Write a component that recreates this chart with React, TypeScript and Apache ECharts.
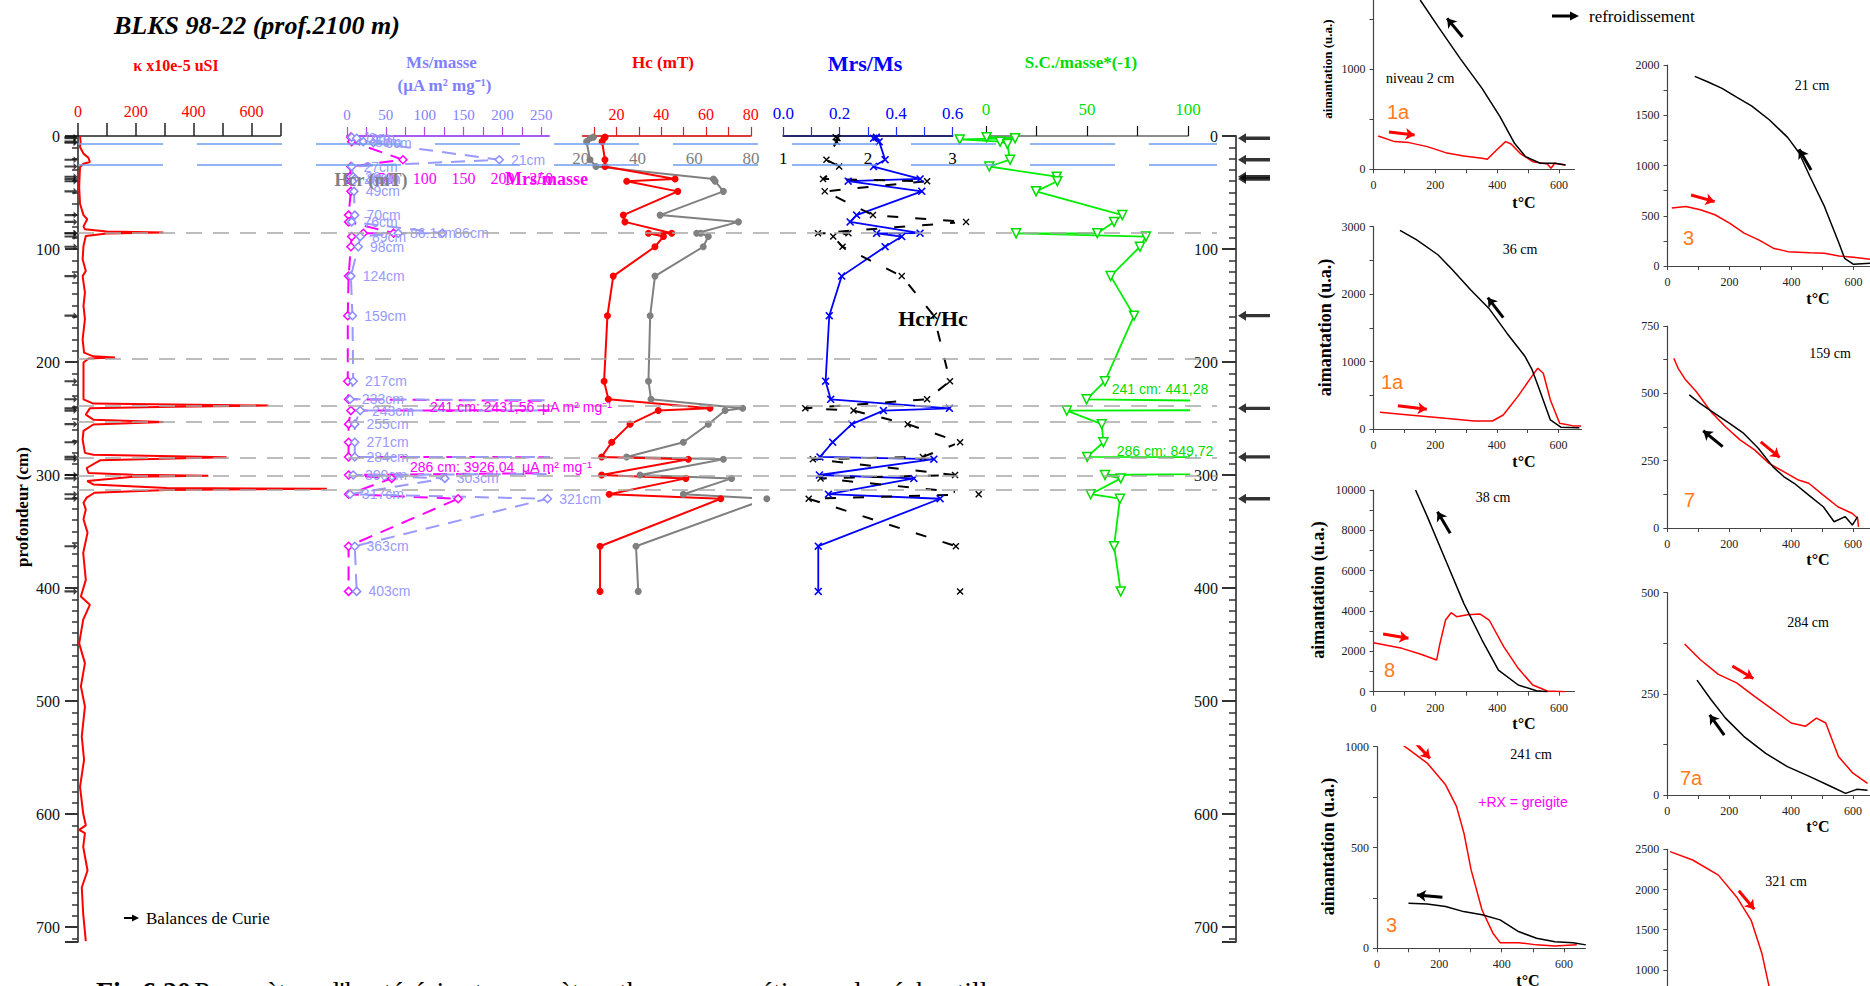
import React, { useEffect, useRef } from "react";
import * as echarts from "echarts";

const SERIF = '"Liberation Serif", "Times New Roman", serif';
const SANS = '"Liberation Sans", Arial, sans-serif';

// ---------------- depth profile data (depth in cm) ----------------
const kappaDepth = [0,5.4,9.7,15.6,19.2,23,24.5,27.4,45,60,70,73.7,80,82.6,84.5,85.4,86.2,88.5,97.3,109,119.4,124,138.6,150.4,162,180,191.7,195,196,197,200.5,221,233,236.8,237.6,238.5,239.7,241,246.5,251,253,255.3,261,268.7,280.4,282,284.3,287,293.8,298.2,299.7,300.6,301.6,305.4,308.4,311.4,312.2,313.3,315.7,320,324.5,330.4,339.2,351,369,392.8,407.5,414.9,428,449,466.5,487,505,531.4,552,576,599.6,610,614,617,629,650,665,688.3,712.5];
const kappaValue = [7,9,7,19,36,41,19,7,4,7,19,32,19,24,99,295,99,27,19,16,27,16,24,19,24,16,21,53,128,36,19,19,19,53,330,659,330,41,27,53,295,53,19,16,24,53,514,76,30,36,191,451,191,32,53,307,861,307,57,30,19,27,19,33,18,27,10,41,18,4,24,10,24,13,21,7,18,27,4,24,18,33,13,18,27];

const msDepth = [1,2,5,6,21,27,36,38,40,49,70,76,86,86.1,89,98,124,159,217,233,241,243,255,271,284,286,300,303,317,321,363,403];
const msValue = [6,12.5,21,34,196,6,8,10,7,9,10,6,123,66,17,14.5,5,7,8,4,2431.56,17,10,10,10,3926.04,8,126,4,258,10,12.5];
const msLabel = ["1cm","2cm","5cm","6cm","21cm","27cm","36cm","38cm","40cm","49cm","70cm","76cm","86cm","86.1cm","89cm","98cm","124cm","159cm","217cm","233cm","","243cm","255cm","271cm","284cm","","300cm","303cm","317cm","321cm","363cm","403cm"];

const mrsDepth = [1,2,5,21,27,36,40,49,70,76,86,86.1,89,98,124,159,217,233,241,243,255,271,284,286,300,303,317,321,363,403];
const mrsValue = [5,6,6,72,5,4,5,5,2,2,60,21,6,5,2,1,1,2,1432,5,2,2,2,2097,2,57.5,2,143,2,2];

const hystDepth = [1,2,5,21,27,38,40,49,70,76,86,86.1,89,98,124,159,217,233,241,243,255,271,284,286,300,303,317,321,363,403];
const hcValue = [14.9,14.5,13.6,14.9,14.9,46.2,24.6,47.4,23.1,23.8,44.7,34.3,41,37.2,18.6,16,14.5,16.4,61.8,38.7,26.1,17.9,13.4,52.1,13.4,51,16.8,66.6,12.7,12.7];
const hcrValue = [24.5,23.3,22.1,23.3,25.4,66.8,67.4,70.3,48,75.6,60.9,62.3,65,63.2,46.2,44.5,43.9,44.8,77.1,70.9,65,56.2,36.2,70.3,40.9,73.2,56.2,85.6,39.5,40.3];
const mrsMsValue = [0.33,0.32,0.34,0.361,0.32,0.485,0.23,0.491,0.26,0.237,0.485,0.331,0.42,0.361,0.207,0.163,0.15,0.168,0.589,0.355,0.243,0.175,0.13,0.534,0.128,0.463,0.16,0.556,0.124,0.124];
const hcrHcValue = [1.62,1.64,1.63,1.51,1.66,1.47,2.70,1.49,2.06,3.16,1.41,1.77,1.59,1.70,2.40,2.78,2.97,2.70,1.26,1.83,2.47,3.09,2.65,1.35,3.03,1.44,3.31,1.30,3.04,3.09];

const scDepth = [1,2,3,5,7,21,27,36,40,49,70,76,86,86.1,89,98,124,159,217,233,241,243,255,271,284,286,300,303,317,321,363,403];
const scValue = [0.3,14.4,-13,7,10.6,11.9,1.6,35,35.3,24.8,67.5,63.4,55.1,14.9,79.2,76.2,61.7,73.3,58.9,49.8,441.28,40,57.3,58.1,50.1,849.72,58.9,66.7,51.8,66.3,63.4,66.7];

const blueRefDepth = [7, 25];
const grayRefDepth = [86, 197, 239, 253, 284.5, 301, 313];
const curieDepth = [2, 21, 36, 38, 159, 241, 284, 321];

// axis tick labels
const kappaTicks = [0, 200, 400, 600];
const msTicks = [0, 50, 100, 150, 200, 250];
const hcTicks = [20, 40, 60, 80];
const hcrTicks = [20, 40, 60, 80];
const mrsMsTicks = [0, 0.2, 0.4, 0.6];
const hcrHcTicks = [1, 2, 3];
const scTicks = [0, 50, 100];
const tempTicks = [0, 200, 400, 600];

// ---------------- Curie balance curves [t °C, aimantation] ----------------
const curie2Heat = [[15,332],[68,276],[115,266],[174,226],[233,166],[292,133],[351,110],[368,100],[398,193],[427,276],[445,252],[474,159],[515,76],[562,53],[574,10],[586,60],[621,43]];
const curie2Cool = [[151,1688],[209,1422],[280,1106],[351,807],[409,525],[456,259],[492,126],[539,60],[586,60],[621,43]];
const curie21Heat = [[14,577],[59,593],[106,560],[153,510],[200,427],[247,327],[294,260],[341,177],[388,143],[459,133],[506,127],[553,100],[600,87],[653,67]];
const curie21Cool = [[88,1887],[129,1833],[176,1767],[224,1677],[271,1593],[329,1453],[388,1277],[424,1127],[459,893],[506,593],[553,227],[571,77],[600,17],[653,27]];
const curie36Heat = [[21,248],[115,208],[233,158],[327,119],[386,119],[421,208],[468,480],[515,787],[533,901],[551,827],[574,431],[604,84],[645,50],[674,45]];
const curie36Cool = [[86,2946],[139,2807],[209,2584],[256,2361],[315,2064],[374,1792],[433,1421],[492,1074],[515,876],[539,579],[574,134],[609,25],[668,20]];
const curie159Heat = [[21,630],[35,593],[59,550],[94,506],[141,432],[188,376],[235,327],[282,290],[329,240],[376,209],[424,178],[457,166],[504,122],[551,79],[598,54],[615,36],[618,4]];
const curie159Cool = [[71,494],[106,463],[153,426],[200,389],[247,351],[294,296],[341,228],[376,191],[410,166],[457,122],[504,79],[539,23],[575,42],[598,11],[615,42]];
const curie38Heat = [[0,2430],[92,2149],[151,1868],[204,1570],[215,2397],[233,3554],[251,3917],[269,3719],[304,3818],[345,3851],[374,3554],[421,2231],[468,1157],[515,331],[562,33],[621,0]];
const curie38Cool = [[136,10000],[174,8678],[233,6529],[292,4380],[351,2562],[404,1074],[468,331],[527,50],[562,0]];
const curie284Heat = [[56,373],[106,335],[165,298],[224,277],[282,244],[341,211],[400,178],[447,170],[482,190],[512,178],[553,95],[600,54],[647,29]];
const curie284Cool = [[96,284],[141,236],[188,190],[247,145],[318,103],[388,70],[459,46],[529,21],[576,4],[612,14],[647,12]];
const curie241Heat = [[15,1081],[56,1038],[103,985],[161,919],[220,811],[255,704],[279,571],[302,389],[337,190],[372,75],[395,28],[454,28],[512,17],[571,12],[641,17]];
const curie241Cool = [[101,224],[161,220],[220,207],[278,182],[337,166],[395,141],[454,83],[512,50],[571,33],[629,28],[670,17]];
const curie321Heat = [[9,2471],[82,2367],[165,2179],[224,1908],[271,1617],[306,1200],[329,792]];

const range = (a: number, b: number, s: number) => {
  const r: number[] = [];
  for (let v = a; v <= b + 1e-9; v += s) r.push(+v.toFixed(6));
  return r;
};

// layout of the Curie balance panels (pixels) + their direction arrows (data units)
const curiePanels = [
  { left: 1373.5, top: 0, width: 201, height: 169.3, xMax: 650, yMin: 0, yMax: 1688, yLabels: [0, 1000], yTicks: range(0, 1500, 500), heat: curie2Heat, cool: curie2Cool, heatArrow: [[50, 372], [133, 342]], coolArrow: [[288, 1319], [238, 1505]] },
  { left: 1667.5, top: 65, width: 202.5, height: 201, xMax: 653, yMin: 0, yMax: 2000, yLabels: range(0, 2000, 500), yTicks: range(0, 2000, 250), heat: curie21Heat, cool: curie21Cool, heatArrow: [[76, 706], [152, 640]], coolArrow: [[463, 955], [424, 1161]] },
  { left: 1373.5, top: 226.7, width: 208, height: 202.3, xMax: 675, yMin: 0, yMax: 3000, yLabels: range(0, 3000, 1000), yTicks: range(0, 3000, 500), heat: curie36Heat, cool: curie36Cool, heatArrow: [[79, 346], [173, 292]], coolArrow: [[421, 1651], [371, 1947]] },
  { left: 1667.3, top: 326, width: 202.7, height: 202, xMax: 655, yMin: 0, yMax: 750, yLabels: range(0, 750, 250), yTicks: range(0, 750, 125), heat: curie159Heat, cool: curie159Cool, heatArrow: [[302, 320], [363, 262]], coolArrow: [[179, 302], [116, 361]] },
  { left: 1373.5, top: 490, width: 201, height: 201.7, xMax: 650, yMin: 0, yMax: 10000, yLabels: range(0, 10000, 2000), yTicks: range(0, 10000, 1000), heat: curie38Heat, cool: curie38Cool, heatArrow: [[31, 2861], [113, 2648]], coolArrow: [[248, 7853], [207, 8924]] },
  { left: 1667.3, top: 592.7, width: 202.7, height: 202.3, xMax: 655, yMin: 0, yMax: 500, yLabels: [0, 250, 500], yTicks: range(0, 500, 125), heat: curie284Heat, cool: curie284Cool, heatArrow: [[210, 319], [278, 288]], coolArrow: [[184, 148], [137, 198]] },
  { left: 1377, top: 746.7, width: 208.5, height: 201.6, xMax: 669, yMin: 0, yMax: 1000, yLabels: [0, 500, 1000], yTicks: range(0, 1000, 250), heat: curie241Heat, cool: curie241Cool, heatArrow: [[115, 1033], [170, 942]], coolArrow: [[210, 253], [128, 264]] },
  { left: 1667.3, top: 849.3, width: 202.7, height: 136.7, xMax: 655, yMin: 800, yMax: 2500, yLabels: [1000, 1500, 2000, 2500], yTicks: range(1000, 2500, 250), heat: curie321Heat, cool: null as any, heatArrow: [[231, 1985], [281, 1754]], coolArrow: null as any, hideX: true },
];

const DTOP = 136;
const DH = 805.7;
const DMAX = 713;

function buildOption() {
  const grids: any[] = [];
  const xAxes: any[] = [];
  const yAxes: any[] = [];
  const series: any[] = [];

  const depthGrid = (left: number, width: number) => ({ left, width, top: DTOP, height: DH, outerBoundsMode: "none" });
  const hiddenDepth = (gi: number) => ({ type: "value", gridIndex: gi, min: 0, max: DMAX, inverse: true, show: false });
  const noSplit = { show: false };
  const plain = (v: number) => String(v);

  // 0 frame (reference lines + left depth axis)
  grids.push(depthGrid(78, 1139));
  xAxes.push({ type: "value", gridIndex: 0, min: 0, max: 1, show: false });
  yAxes.push({
    type: "value", gridIndex: 0, min: 0, max: DMAX, inverse: true, interval: 100, position: "left",
    axisLine: { show: true, onZero: false, lineStyle: { color: "#555", width: 2 } },
    axisTick: { show: true, length: 13, lineStyle: { color: "#333", width: 2 } },
    minorTick: { show: true, splitNumber: 10, length: 6, lineStyle: { color: "#333", width: 1.5 } },
    axisLabel: { fontSize: 16, fontFamily: SERIF, color: "#111", margin: 18 },
    splitLine: noSplit, minorSplitLine: noSplit,
  });

  // 1 kappa axis
  grids.push(depthGrid(78, 202.3));
  xAxes.push({
    type: "value", gridIndex: 1, position: "top", min: 0, max: 700, interval: 100,
    axisLine: { show: true, onZero: false, lineStyle: { color: "#222", width: 1.5 } },
    axisTick: { show: true, length: 13, lineStyle: { color: "#222", width: 1.5 } },
    axisLabel: { customValues: kappaTicks, color: "#ff0000", fontSize: 16, fontFamily: SERIF, margin: 17 },
    splitLine: noSplit,
  });
  yAxes.push(hiddenDepth(1));

  // 2 Ms / Mrs per mass
  grids.push(depthGrid(347, 202));
  xAxes.push({
    type: "value", gridIndex: 2, position: "top", min: 0, max: 260,
    axisLine: { show: true, onZero: false, lineStyle: { color: "#a65cf2", width: 2 } },
    axisTick: { show: true, customValues: range(0, 250, 25), length: 9, lineStyle: { color: "#b04ae6", width: 1.2 } },
    axisLabel: { customValues: msTicks, color: "#7f7fff", fontSize: 15, fontFamily: SERIF, margin: 14 },
    splitLine: noSplit,
  });
  yAxes.push(hiddenDepth(2));

  // 3 Hcr (grey scale)
  grids.push(depthGrid(523.9, 227));
  xAxes.push({
    type: "value", gridIndex: 3, position: "top", min: 0, max: 80, offset: -22,
    axisLine: { show: false, onZero: false }, axisTick: { show: false },
    axisLabel: { customValues: hcrTicks, color: "#808080", fontSize: 17, fontFamily: SERIF, margin: 0, verticalAlign: "middle" },
    splitLine: noSplit,
  });
  yAxes.push(hiddenDepth(3));

  // 4 Hc
  grids.push(depthGrid(582.8, 168));
  xAxes.push({
    type: "value", gridIndex: 4, position: "top", min: 5, max: 80,
    axisLine: { show: true, onZero: false, lineStyle: { color: "#dd3b3b", width: 2 } },
    axisTick: { show: true, customValues: range(10, 80, 10), length: 9, lineStyle: { color: "#e02020", width: 1.2 } },
    axisLabel: { customValues: hcTicks, color: "#ff0000", fontSize: 16, fontFamily: SERIF, margin: 14 },
    splitLine: noSplit,
  });
  yAxes.push(hiddenDepth(4));

  // 5 Mrs/Ms
  grids.push(depthGrid(783.3, 169.2));
  xAxes.push({
    type: "value", gridIndex: 5, position: "top", min: 0, max: 0.6,
    axisLine: { show: true, onZero: false, lineStyle: { color: "#27276f", width: 2 } },
    axisTick: { show: true, customValues: range(0, 0.6, 0.1), length: 9, lineStyle: { color: "#2030ff", width: 1.2 } },
    axisLabel: { customValues: mrsMsTicks, color: "#0000ff", fontSize: 17, fontFamily: SERIF, margin: 14, formatter: (v: number) => v.toFixed(1) },
    splitLine: noSplit,
  });
  yAxes.push(hiddenDepth(5));

  // 6 Hcr/Hc
  grids.push(depthGrid(783.3, 169.2));
  xAxes.push({
    type: "value", gridIndex: 6, position: "top", min: 1, max: 3, offset: -22,
    axisLine: { show: false, onZero: false }, axisTick: { show: false },
    axisLabel: { customValues: hcrHcTicks, color: "#000", fontSize: 17, fontFamily: SERIF, margin: 0, verticalAlign: "middle" },
    splitLine: noSplit,
  });
  yAxes.push(hiddenDepth(6));

  // 7 S.C. axis
  grids.push(depthGrid(986, 202));
  xAxes.push({
    type: "value", gridIndex: 7, position: "top", min: 0, max: 100,
    axisLine: { show: true, onZero: false, lineStyle: { color: "#666", width: 1.5 } },
    axisTick: { show: true, customValues: range(0, 100, 25), length: 10, lineStyle: { color: "#111", width: 1.2 } },
    axisLabel: { customValues: scTicks, color: "#00e000", fontSize: 17, fontFamily: SERIF, margin: 18 },
    splitLine: noSplit,
  });
  yAxes.push(hiddenDepth(7));

  // 8 S.C. data (extended to the left)
  grids.push(depthGrid(955.7, 232.3));
  xAxes.push({ type: "value", gridIndex: 8, min: -15, max: 100, show: false });
  yAxes.push(hiddenDepth(8));

  // 9 right depth axis
  grids.push(depthGrid(1200, 36));
  xAxes.push({ type: "value", gridIndex: 9, min: 0, max: 1, show: false });
  yAxes.push({
    type: "value", gridIndex: 9, min: 0, max: DMAX, inverse: true, interval: 100, position: "right",
    axisLine: { show: true, onZero: false, lineStyle: { color: "#555", width: 2 } },
    axisTick: { show: true, inside: true, length: 14, lineStyle: { color: "#333", width: 2 } },
    minorTick: { show: true, splitNumber: 10, length: 7, lineStyle: { color: "#333", width: 1.5 } },
    axisLabel: { inside: true, fontSize: 16, fontFamily: SERIF, color: "#111", margin: 18 },
    splitLine: noSplit, minorSplitLine: noSplit,
  });

  // 10..17 Curie panels
  curiePanels.forEach((p, k) => {
    const gi = 10 + k;
    grids.push({ left: p.left, top: p.top, width: p.width, height: p.height, outerBoundsMode: "none" });
    xAxes.push({
      type: "value", gridIndex: gi, position: "bottom", min: 0, max: p.xMax, show: !p.hideX,
      axisLine: { show: true, onZero: false, lineStyle: { color: "#444", width: 1.2 } },
      axisTick: { show: true, customValues: range(0, 600, 100), length: 4, lineStyle: { color: "#444" } },
      axisLabel: { customValues: tempTicks, fontSize: 12, fontFamily: SERIF, color: "#222", margin: 10, formatter: plain },
      splitLine: noSplit,
    });
    yAxes.push({
      type: "value", gridIndex: gi, position: "left", min: p.yMin, max: p.yMax,
      axisLine: { show: true, onZero: false, lineStyle: { color: "#444", width: 1.2 } },
      axisTick: { show: true, customValues: p.yTicks, length: 4, lineStyle: { color: "#444" } },
      axisLabel: { customValues: p.yLabels, fontSize: 12, fontFamily: SERIF, color: "#222", margin: 8, formatter: plain },
      splitLine: noSplit,
    });
    series.push({
      type: "line", xAxisIndex: gi, yAxisIndex: gi, data: p.heat, showSymbol: false, clip: true,
      lineStyle: { color: "#ff0000", width: 1.5 }, silent: true,
    });
    if (p.cool) {
      series.push({
        type: "line", xAxisIndex: gi, yAxisIndex: gi, data: p.cool, showSymbol: false, clip: true,
        lineStyle: { color: "#000", width: 1.5 }, silent: true,
      });
    }
    const arrows: any[] = [{ coords: p.heatArrow, lineStyle: { color: "#ff0000" } }];
    if (p.coolArrow) arrows.push({ coords: p.coolArrow, lineStyle: { color: "#000" } });
    series.push({
      type: "lines", coordinateSystem: "cartesian2d", xAxisIndex: gi, yAxisIndex: gi,
      symbol: ["none", "arrow"], symbolSize: 9, silent: true,
      lineStyle: { width: 3, opacity: 1, curveness: 0 }, data: arrows,
    });
  });

  // xAxis 18: Mrs/masse secondary labels on Ms grid
  xAxes.push({
    type: "value", gridIndex: 2, position: "top", min: 0, max: 260, offset: -42,
    axisLine: { show: false, onZero: false }, axisTick: { show: false },
    axisLabel: { customValues: msTicks, color: "#ff00ff", fontSize: 16, fontFamily: SERIF, margin: 0, verticalAlign: "middle" },
    splitLine: noSplit,
  });

  // grid 18 / xAxis 19 / yAxis 18 : kappa data (wider than the drawn axis so peaks overflow)
  grids.push(depthGrid(78, 0.289 * 950));
  xAxes.push({ type: "value", gridIndex: 18, min: 0, max: 950, show: false });
  yAxes.push(hiddenDepth(18));

  // reference dashed lines
  series.push({
    type: "line", xAxisIndex: 0, yAxisIndex: 0, data: [], silent: true,
    markLine: {
      symbol: ["none", "none"], silent: true, label: { show: false },
      data: [
        ...blueRefDepth.map((d) => ({ yAxis: d, lineStyle: { color: "#6f9ff0", width: 1.5, type: [85, 34] } })),
        ...grayRefDepth.map((d) => ({ yAxis: d, lineStyle: { color: "#a8a8a8", width: 1.5, type: [16, 11] } })),
      ],
    },
  });

  // kappa curve
  series.push({
    type: "line", xAxisIndex: 19, yAxisIndex: 18, clip: false, showSymbol: false, silent: true,
    data: kappaDepth.map((d, i) => [kappaValue[i], d]),
    lineStyle: { color: "#ff0000", width: 2 },
  });
  // sample arrows on left axis
  series.push({
    type: "scatter", xAxisIndex: 1, yAxisIndex: 1, clip: false, silent: true,
    data: msDepth.map((d) => [0, d]),
    symbol: "path://M30,5 L21,0 L21,3.5 L0,3.5 L0,6.5 L21,6.5 L21,10 Z",
    symbolSize: [13, 7], symbolOffset: [-7, 0],
    itemStyle: { color: "#111" },
  });

  // Mrs per mass (magenta)
  series.push({
    type: "line", xAxisIndex: 18, yAxisIndex: 2, clip: true, silent: true,
    data: mrsDepth.map((d, i) => [mrsValue[i], d]),
    symbol: "diamond", symbolSize: 8,
    itemStyle: { color: "#fff", borderColor: "#ff00ff", borderWidth: 1.5 },
    lineStyle: { color: "#ff00ff", width: 2, type: [14, 9] },
  });
  // Ms per mass (light blue)
  series.push({
    type: "line", xAxisIndex: 2, yAxisIndex: 2, clip: true, silent: true,
    data: msDepth.map((d, i) => ({ value: [msValue[i], d], name: msLabel[i] })),
    symbol: "diamond", symbolSize: 8,
    itemStyle: { color: "#fff", borderColor: "#8c8cff", borderWidth: 1.5 },
    lineStyle: { color: "#9999ff", width: 2, type: [14, 9] },
    label: { show: true, position: "right", distance: 7, formatter: (p: any) => p.name, color: "#9999ff", fontSize: 14, fontFamily: SANS },
  });

  // Hcr (grey)
  series.push({
    type: "line", xAxisIndex: 3, yAxisIndex: 3, clip: false, silent: true,
    data: hystDepth.map((d, i) => [hcrValue[i], d]),
    symbol: "circle", symbolSize: 7, itemStyle: { color: "#808080" },
    lineStyle: { color: "#808080", width: 2 },
  });
  // Hc (red)
  series.push({
    type: "line", xAxisIndex: 4, yAxisIndex: 4, clip: false, silent: true,
    data: hystDepth.map((d, i) => [hcValue[i], d]),
    symbol: "circle", symbolSize: 7, itemStyle: { color: "#ff0000" },
    lineStyle: { color: "#ff0000", width: 2 },
  });
  const cross = "path://M0,1.4 L1.4,0 L5,3.6 L8.6,0 L10,1.4 L6.4,5 L10,8.6 L8.6,10 L5,6.4 L1.4,10 L0,8.6 L3.6,5 Z";
  // Mrs/Ms (blue)
  series.push({
    type: "line", xAxisIndex: 5, yAxisIndex: 5, clip: false, silent: true,
    data: hystDepth.map((d, i) => [mrsMsValue[i], d]),
    symbol: cross, symbolSize: 8, itemStyle: { color: "#0000ff" },
    lineStyle: { color: "#0000ff", width: 1.8 },
  });
  // Hcr/Hc (black dashed)
  series.push({
    type: "line", xAxisIndex: 6, yAxisIndex: 6, clip: false, silent: true,
    data: hystDepth.map((d, i) => [hcrHcValue[i], d]),
    symbol: cross, symbolSize: 7, itemStyle: { color: "#000" },
    lineStyle: { color: "#000", width: 2, type: [11, 17] },
  });
  // S.C. (green)
  series.push({
    type: "line", xAxisIndex: 8, yAxisIndex: 8, clip: true, silent: true,
    data: scDepth.map((d, i) => [scValue[i], d]),
    symbol: "triangle", symbolRotate: 180, symbolSize: 9,
    itemStyle: { color: "#fff", borderColor: "#00dd00", borderWidth: 1.5 },
    lineStyle: { color: "#00ee00", width: 1.8 },
  });
  // Curie balance sample arrows (right axis)
  series.push({
    type: "scatter", xAxisIndex: 9, yAxisIndex: 9, clip: false, silent: true,
    data: curieDepth.map((d) => [1, d]),
    symbol: "path://M0,5 L8,0 L8,3.3 L32,3.3 L32,6.7 L8,6.7 L8,10 Z",
    symbolSize: [32, 10], symbolOffset: [18, 0],
    itemStyle: { color: "#000" },
  });

  // ---------------- texts ----------------
  const T = (x: number, y: number, text: string, font: string, fill: string, align = "center", rotation = 0) => ({
    type: "text", x, y, rotation, silent: true, z: 50,
    style: { text, font, fill, align, verticalAlign: "middle" },
  });
  const bs = (n: number) => `bold ${n}px ${SERIF}`;
  const rs = (n: number) => `${n}px ${SERIF}`;
  const ss = (n: number) => `${n}px ${SANS}`;
  const ORANGE = "#ff7a1a";

  const graphic: any[] = [
    T(114, 25, "BLKS 98-22 (prof.2100 m)", `italic bold 26px ${SERIF}`, "#000", "left"),
    T(176, 65, "κ x10e-5 uSI", bs(16), "#ff0000"),
    T(441.5, 62, "Ms/masse", bs(17), "#7f7fff"),
    T(444.5, 85, "(μA m² mg⁻¹)", bs(17), "#7f7fff"),
    T(663, 62, "Hc (mT)", bs(17), "#ff0000"),
    T(865, 63, "Mrs/Ms", bs(22), "#0000ff"),
    T(1081, 62, "S.C./masse*(-1)", bs(17), "#00dd00"),
    T(371, 180, "Hcr (mT)", bs(18), "#808080"),
    T(546.5, 179, "Mrs/masse", bs(18), "#ff00ff"),
    T(933, 318, "Hcr/Hc", bs(22), "#000"),
    T(22, 507, "profondeur (cm)", bs(17), "#000", "center", Math.PI / 2),
    T(430, 406.7, "241 cm: 2431,56  μA m² mg⁻¹", ss(14), "#ff00ff", "left"),
    T(410, 466.7, "286 cm: 3926,04  μA m² mg⁻¹", ss(14), "#ff00ff", "left"),
    T(1111.7, 389.3, "241 cm: 441,28", ss(14), "#00dd00", "left"),
    T(1116.7, 450.7, "286 cm: 849,72", ss(14), "#00dd00", "left"),
    T(146, 918, "Balances de Curie", rs(17), "#000", "left"),
    { type: "line", silent: true, shape: { x1: 124, y1: 918, x2: 133, y2: 918 }, style: { stroke: "#000", lineWidth: 2 } },
    { type: "polygon", silent: true, shape: { points: [[132, 914.5], [139, 918], [132, 921.5]] }, style: { fill: "#000" } },
    T(1589, 16, "refroidissement", rs(17), "#000", "left"),
    { type: "line", silent: true, shape: { x1: 1552, y1: 16, x2: 1572, y2: 16 }, style: { stroke: "#000", lineWidth: 3 } },
    { type: "polygon", silent: true, shape: { points: [[1570, 11.5], [1579, 16], [1570, 20.5]] }, style: { fill: "#000" } },
    // Curie texts
    T(1327, 69, "aimantation (u.a.)", bs(13), "#000", "center", Math.PI / 2),
    T(1325, 327.5, "aimantation (u.a.)", bs(18), "#000", "center", Math.PI / 2),
    T(1318, 590, "aimantation (u.a.)", bs(18), "#000", "center", Math.PI / 2),
    T(1328, 846.5, "aimantation (u.a.)", bs(18), "#000", "center", Math.PI / 2),
    T(1386, 78, "niveau 2 cm", rs(14), "#000", "left"),
    T(1812, 85, "21 cm", rs(14), "#000"),
    T(1520, 249, "36 cm", rs(14), "#000"),
    T(1830, 353, "159 cm", rs(14), "#000"),
    T(1493, 497, "38 cm", rs(14), "#000"),
    T(1808, 622, "284 cm", rs(14), "#000"),
    T(1531, 754, "241 cm", rs(14), "#000"),
    T(1786, 881, "321 cm", rs(14), "#000"),
    T(1523, 802, "+RX = greigite", ss(14), "#ff00ff"),
    T(1387, 112, "1a", ss(20), ORANGE, "left"),
    T(1683, 238, "3", ss(20), ORANGE, "left"),
    T(1381, 382, "1a", ss(20), ORANGE, "left"),
    T(1684, 500, "7", ss(20), ORANGE, "left"),
    T(1384, 670, "8", ss(20), ORANGE, "left"),
    T(1680, 778, "7a", ss(20), ORANGE, "left"),
    T(1386, 925, "3", ss(20), ORANGE, "left"),
    T(1524, 202, "t°C", bs(16), "#000"),
    T(1818, 298, "t°C", bs(16), "#000"),
    T(1524, 461, "t°C", bs(16), "#000"),
    T(1818, 559, "t°C", bs(16), "#000"),
    T(1524, 723, "t°C", bs(16), "#000"),
    T(1818, 826, "t°C", bs(16), "#000"),
    T(1528, 980, "t°C", bs(16), "#000"),
    {
      type: "text", x: 96, y: 991, silent: true,
      style: {
        rich: { b: { font: `bold 28px ${SERIF}`, fill: "#000" }, n: { font: `28px ${SERIF}`, fill: "#000" } },
        text: "{b|Fig.6.20} {n|Paramètres d'hystérésis et paramètres thermomagnétiques des échantillons}",
        align: "left", verticalAlign: "middle",
      },
    },
  ];

  return {
    animation: false,
    backgroundColor: "#fff",
    grid: grids,
    xAxis: xAxes,
    yAxis: yAxes,
    series,
    graphic,
  };
}

export default function App() {
  const ref = useRef<HTMLDivElement>(null);
  useEffect(() => {
    document.body.style.margin = "0";
    const chart = echarts.init(ref.current!, null, { renderer: "svg" });
    chart.setOption(buildOption() as any);
    return () => chart.dispose();
  }, []);
  return <div ref={ref} style={{ width: 1870, height: 986 }} />;
}
